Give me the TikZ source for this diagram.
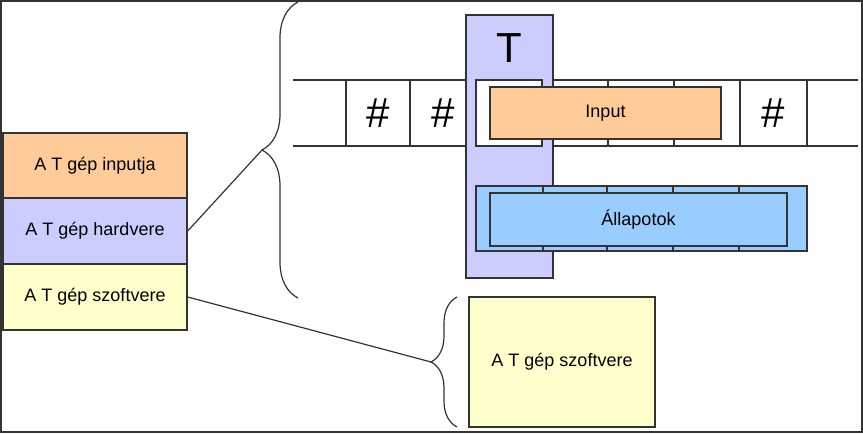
\documentclass[tikz,border=0pt]{standalone}
\usepackage{fontspec}
\setmainfont{Liberation Sans}
\usetikzlibrary{decorations.pathreplacing}

\definecolor{inputorange}{HTML}{FFCC99}
\definecolor{hwpurple}{HTML}{CCCCFF}
\definecolor{swyellow}{HTML}{FFFFCC}
\definecolor{stateblue}{HTML}{99CCFF}
\definecolor{edge}{HTML}{333333}

\begin{document}
\begin{tikzpicture}[x=1pt,y=-1pt,line width=1.4pt,
	box/.style={draw=edge,rectangle,inner sep=0pt,font=\fontsize{18}{21}\selectfont},
	bigsym/.style={inner sep=0pt,font=\fontsize{42}{44}\selectfont},
	curly/.style={decorate,draw=edge,line width=1.2pt}]
		\useasboundingbox (0,0) rectangle (863,434);
		\draw[edge] (1,1) rectangle (862,432);

		% left stack
		\node[box,fill=inputorange,minimum width=184pt,minimum height=65pt] (inp) at (95,165.5) {A T gép inputja};
		\node[box,fill=hwpurple,minimum width=184pt,minimum height=66pt] (hw) at (95,231) {A T gép hardvere};
		\node[box,fill=swyellow,minimum width=184pt,minimum height=66pt] (sw) at (95,297) {A T gép szoftvere};

		% tape
		\draw[edge] (293,80) -- (858,80);
		\draw[edge] (293,146) -- (858,146);
		\foreach \x in {346,410,608,674,740,807}
		\draw[edge] (\x,80) -- (\x,146);
		\node[bigsym] (h1) at (378,113) {\#};
		\node[bigsym] (h2) at (443,113) {\#};
		\node[bigsym] (h3) at (773,113) {\#};

		% the machine
		\node[box,fill=hwpurple,minimum width=87pt,minimum height=263pt] (tbox) at (509.5,146.5) {};
		\node[bigsym] (tlabel) at (509.5,48) {T};
		\node[box,fill=white,minimum width=66pt,minimum height=66pt] (head) at (509,113) {};
		\node[box,fill=inputorange,minimum width=231pt,minimum height=52pt] (input) at (605.5,113) {Input};

		% states
		\foreach \x/\w in {476/67,543/64,607/66,673/66,739/68}
		\filldraw[draw=edge,fill=stateblue] (\x,186) rectangle ++(\w,65);
		\node[box,fill=stateblue,minimum width=297pt,minimum height=53pt] (states) at (638.5,219.5) {Állapotok};

		\node[box,fill=swyellow,minimum width=186pt,minimum height=130pt] (swbig) at (562,362) {A T gép szoftvere};

		% braces
		\draw[curly,decoration={brace,amplitude=36pt}] (298,298) -- (298,2);
		\coordinate (hwtip) at (262,150);
		\draw[curly,decoration={brace,amplitude=26pt}] (457,427) -- (457,297);
		\coordinate (swtip) at (431,362);
		\draw[edge,line width=1.2pt] (hw.east) -- (hwtip);
		\draw[edge,line width=1.2pt] (sw.east) -- (swtip);
	\end{tikzpicture}
\end{document}
